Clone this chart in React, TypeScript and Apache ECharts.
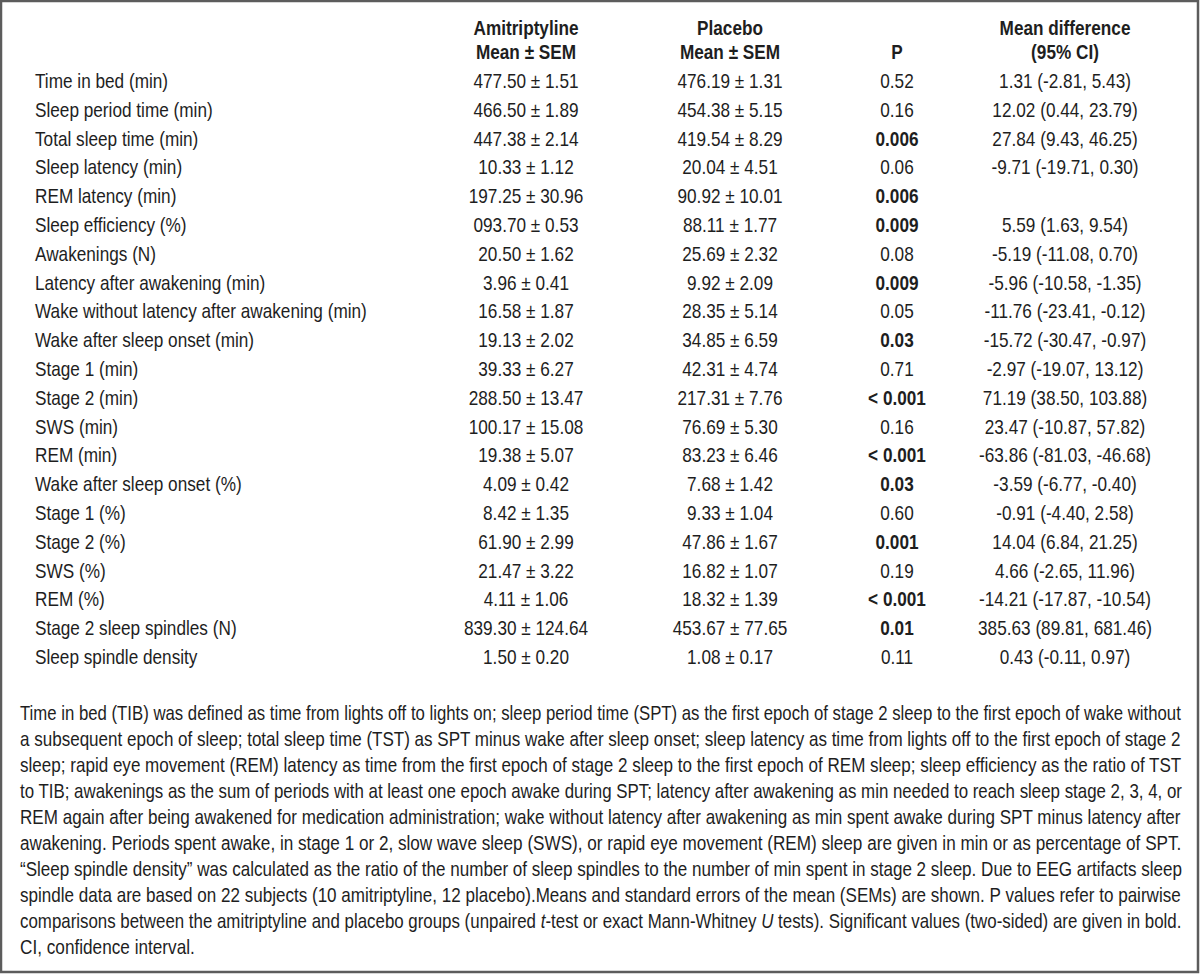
import React, { useEffect, useRef } from "react";
import * as echarts from "echarts";

const rowLabels = [
  "Time in bed (min)",
  "Sleep period time (min)",
  "Total sleep time (min)",
  "Sleep latency (min)",
  "REM latency (min)",
  "Sleep efficiency (%)",
  "Awakenings (N)",
  "Latency after awakening (min)",
  "Wake without latency after awakening (min)",
  "Wake after sleep onset (min)",
  "Stage 1 (min)",
  "Stage 2 (min)",
  "SWS (min)",
  "REM (min)",
  "Wake after sleep onset (%)",
  "Stage 1 (%)",
  "Stage 2 (%)",
  "SWS (%)",
  "REM (%)",
  "Stage 2 sleep spindles (N)",
  "Sleep spindle density",
];

const amitriptylineValues = [
  "477.50 ± 1.51", "466.50 ± 1.89", "447.38 ± 2.14", "10.33 ± 1.12", "197.25 ± 30.96",
  "093.70 ± 0.53", "20.50 ± 1.62", "3.96 ± 0.41", "16.58 ± 1.87", "19.13 ± 2.02",
  "39.33 ± 6.27", "288.50 ± 13.47", "100.17 ± 15.08", "19.38 ± 5.07", "4.09 ± 0.42",
  "8.42 ± 1.35", "61.90 ± 2.99", "21.47 ± 3.22", "4.11 ± 1.06", "839.30 ± 124.64",
  "1.50 ± 0.20",
];

const placeboValues = [
  "476.19 ± 1.31", "454.38 ± 5.15", "419.54 ± 8.29", "20.04 ± 4.51", "90.92 ± 10.01",
  "88.11 ± 1.77", "25.69 ± 2.32", "9.92 ± 2.09", "28.35 ± 5.14", "34.85 ± 6.59",
  "42.31 ± 4.74", "217.31 ± 7.76", "76.69 ± 5.30", "83.23 ± 6.46", "7.68 ± 1.42",
  "9.33 ± 1.04", "47.86 ± 1.67", "16.82 ± 1.07", "18.32 ± 1.39", "453.67 ± 77.65",
  "1.08 ± 0.17",
];

const pValues = [
  "0.52", "0.16", "0.006", "0.06", "0.006", "0.009", "0.08", "0.009", "0.05", "0.03",
  "0.71", "< 0.001", "0.16", "< 0.001", "0.03", "0.60", "0.001", "0.19", "< 0.001", "0.01",
  "0.11",
];

const pSignificant = [
  false, false, true, false, true, true, false, true, false, true,
  false, true, false, true, true, false, true, false, true, true,
  false,
];

const meanDifferences = [
  "1.31 (-2.81, 5.43)", "12.02 (0.44, 23.79)", "27.84 (9.43, 46.25)", "-9.71 (-19.71, 0.30)", "",
  "5.59 (1.63, 9.54)", "-5.19 (-11.08, 0.70)", "-5.96 (-10.58, -1.35)", "-11.76 (-23.41, -0.12)",
  "-15.72 (-30.47, -0.97)", "-2.97 (-19.07, 13.12)", "71.19 (38.50, 103.88)", "23.47 (-10.87, 57.82)",
  "-63.86 (-81.03, -46.68)", "-3.59 (-6.77, -0.40)", "-0.91 (-4.40, 2.58)", "14.04 (6.84, 21.25)",
  "4.66 (-2.65, 11.96)", "-14.21 (-17.87, -10.54)", "385.63 (89.81, 681.46)", "0.43 (-0.11, 0.97)",
];

const headerLine1 = ["Amitriptyline", "Placebo", "", "Mean difference"];
const headerLine2 = ["Mean ± SEM", "Mean ± SEM", "P", "(95% CI)"];

// footnote lines; segments wrapped in [i]...[/i] are italic
const footnoteLines = [
  "Time in bed (TIB) was defined as time from lights off to lights on; sleep period time (SPT) as the first epoch of stage 2 sleep to the first epoch of wake without",
  "a subsequent epoch of sleep; total sleep time (TST) as SPT minus wake after sleep onset; sleep latency as time from lights off to the first epoch of stage 2",
  "sleep; rapid eye movement (REM) latency as time from the first epoch of stage 2 sleep to the first epoch of REM sleep; sleep efficiency as the ratio of TST",
  "to TIB; awakenings as the sum of periods with at least one epoch awake during SPT; latency after awakening as min needed to reach sleep stage 2, 3, 4, or",
  "REM again after being awakened for medication administration; wake without latency after awakening as min spent awake during SPT minus latency after",
  "awakening. Periods spent awake, in stage 1 or 2, slow wave sleep (SWS), or rapid eye movement (REM) sleep are given in min or as percentage of SPT.",
  "\u201CSleep spindle density\u201D was calculated as the ratio of the number of sleep spindles to the number of min spent in stage 2 sleep. Due to EEG artifacts sleep",
  "spindle data are based on 22 subjects (10 amitriptyline, 12 placebo).Means and standard errors of the mean (SEMs) are shown. P values refer to pairwise",
  "comparisons between the amitriptyline and placebo groups (unpaired [i]t[/i]-test or exact Mann-Whitney [i]U[/i] tests). Significant values (two-sided) are given in bold.",
  "CI, confidence interval.",
];

const FONT = "Liberation Sans";
const FS = 20;
const SX = 0.86;
const COLOR = "#1e1e1e";

const colX = { label: 35, ami: 526, pla: 730, p: 897, md: 1065 };
const headY1 = 28;
const headY2 = 52;
const rowY0 = 81;
const rowStep = 28.8;
const footY0 = 713;
const footStep = 26;
const footLeft = 20;
const footRight = 1182;

function splitSegments(line: string) {
  const segs: { t: string; it: boolean }[] = [];
  const re = /\[i\](.*?)\[\/i\]/g;
  let last = 0;
  let m;
  while ((m = re.exec(line))) {
    if (m.index > last) segs.push({ t: line.slice(last, m.index), it: false });
    segs.push({ t: m[1], it: true });
    last = m.index + m[0].length;
  }
  if (last < line.length) segs.push({ t: line.slice(last), it: false });
  return segs;
}

export default function App() {
  const ref = useRef<HTMLDivElement>(null);
  useEffect(() => {
    document.body.style.margin = "0";
    if (!ref.current) return;
    const chart = echarts.init(ref.current, null, { renderer: "svg" });
    const ctx = document.createElement("canvas").getContext("2d")!;
    const measure = (t: string, italic: boolean) => {
      ctx.font = `${italic ? "italic " : ""}normal ${FS}px "${FONT}"`;
      return ctx.measureText(t).width;
    };

    const elements: any[] = [];
    const txt = (text: string, x: number, y: number, align: string, bold = false, sx = SX, rich?: any) => {
      elements.push({
        type: "text",
        x,
        y,
        scaleX: sx,
        silent: true,
        style: {
          text,
          fill: COLOR,
          fontFamily: FONT,
          fontSize: FS,
          fontWeight: bold ? "bold" : "normal",
          textAlign: align,
          textVerticalAlign: "middle",
          align,
          verticalAlign: "middle",
          rich,
        },
      });
    };

    // border
    elements.push({
      type: "rect",
      shape: { x: 1, y: 1, width: 1197, height: 971 },
      style: { fill: "#ffffff", stroke: "#5c5c5c", lineWidth: 2.5 },
      silent: true,
    });

    const colCenters = [colX.ami, colX.pla, colX.p, colX.md];
    headerLine1.forEach((h, i) => { if (h) txt(h, colCenters[i], headY1, "center", true); });
    headerLine2.forEach((h, i) => { if (h) txt(h, colCenters[i], headY2, "center", true); });

    rowLabels.forEach((lab, i) => {
      const y = rowY0 + i * rowStep;
      txt(lab, colX.label, y, "left");
      txt(amitriptylineValues[i], colX.ami, y, "center");
      txt(placeboValues[i], colX.pla, y, "center");
      txt(pValues[i], colX.p, y, "center", pSignificant[i]);
      if (meanDifferences[i]) txt(meanDifferences[i], colX.md, y, "center");
    });

    footnoteLines.forEach((line, i) => {
      const y = footY0 + i * footStep;
      const segs = splitSegments(line);
      const natural = segs.reduce((s, g) => s + measure(g.t, g.it), 0);
      const isLast = i === footnoteLines.length - 1;
      const sx = isLast ? SX : (footRight - footLeft) / natural;
      const hasItalic = segs.some((g) => g.it);
      if (hasItalic) {
        const text = segs.map((g) => (g.it ? `{i|${g.t}}` : `{n|${g.t}}`)).join("");
        txt(text, footLeft, y, "left", false, sx, {
          n: { fontFamily: FONT, fontSize: FS, fill: COLOR },
          i: { fontFamily: FONT, fontSize: FS, fill: COLOR, fontStyle: "italic" },
        });
      } else {
        txt(line, footLeft, y, "left", false, sx);
      }
    });

    chart.setOption({
      animation: false,
      backgroundColor: "#ffffff",
      graphic: { elements },
    });
    return () => chart.dispose();
  }, []);
  return <div ref={ref} style={{ width: 1200, height: 974 }} />;
}
